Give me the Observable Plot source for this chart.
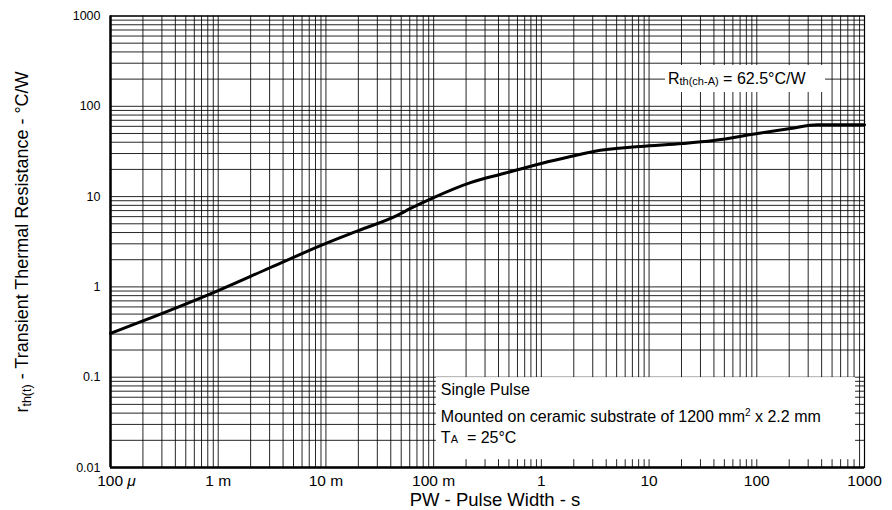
<!DOCTYPE html>
<html><head><meta charset="utf-8">
<script src="https://cdn.jsdelivr.net/npm/d3@7"></script>
<script src="https://cdn.jsdelivr.net/npm/@observablehq/plot@0.6"></script>
<style>
body{margin:0;background:#fff;}
#chart svg{display:block;}
</style>
</head><body><div id="chart"></div>
<script>
// ---- data ----
const pulseWidth = [1e-4, 2e-4, 1e-3, 3.06e-3, 1e-2, 0.02, 0.046, 0.061, 0.1, 0.22, 0.446, 1.0, 1.87, 3.05, 8.3, 20.5, 39.7, 101.6, 206, 366, 1000];
const thermalRes = [0.305, 0.42, 0.912, 1.64, 3.03, 4.2, 6.2, 7.4, 9.77, 14.3, 18.0, 23.3, 27.8, 31.6, 35.9, 38.7, 41.8, 50.0, 56.8, 62.5, 62.5];
const xTicks = [1e-4, 1e-3, 1e-2, 1e-1, 1, 10, 100, 1000];
const xTickLabels = ["100 μ", "1 m", "10 m", "100 m", "1", "10", "100", "1000"];
const yTicks = [0.01, 0.1, 1, 10, 100, 1000];
const yTickLabels = ["0.01", "0.1", "1", "10", "100", "1000"];
const noteBox = [{x1: 0.106, x2: 826, y1: 0.0122, y2: 0.099}];
const rthBox = [{x1: 14.2, x2: 435, y1: 142, y2: 283}];
const rthValue = "62.5°C/W";

const curve = pulseWidth.map((t, i) => ({t, r: thermalRes[i]}));
const gridOf = (decades) => decades.slice(0, -1).flatMap(d => [1,2,3,4,5,6,7,8,9].map(m => m * d)).concat([decades[decades.length - 1]]);
const xGrid = gridOf(xTicks);
const yGrid = gridOf(yTicks);

const FONT = "'Liberation Sans', Arial, sans-serif";

const chart = Plot.plot({
  width: 892,
  height: 510,
  marginLeft: 110,
  marginRight: 28,
  marginTop: 15.5,
  marginBottom: 43,
  style: {fontFamily: FONT, background: "#fff", color: "#000"},
  x: {type: "log", domain: [1e-4, 1000]},
  y: {type: "log", domain: [0.01, 1000]},
  marks: [
    Plot.ruleX(xGrid, {stroke: "#000", strokeWidth: 1, strokeOpacity: 0.85}),
    Plot.ruleY(yGrid, {stroke: "#000", strokeWidth: 1, strokeOpacity: 0.85}),
    Plot.rect(noteBox, {x1: "x1", x2: "x2", y1: "y1", y2: "y2", fill: "#fff"}),
    Plot.rect(rthBox, {x1: "x1", x2: "x2", y1: "y1", y2: "y2", fill: "#fff"}),
    Plot.frame({stroke: "#000", strokeWidth: 1.2}),
    Plot.ruleY([0.01], {stroke: "#000", strokeWidth: 2.5}),
    Plot.ruleX([1e-4], {stroke: "#000", strokeWidth: 2.5}),
    Plot.line(curve, {x: "t", y: "r", stroke: "#000", strokeWidth: 3, curve: "monotone-x"}),
    Plot.axisX(xTicks, {tickSize: 0, tickPadding: 7, fontSize: 15.5, label: null,
      tickFormat: (d) => xTickLabels[xTicks.indexOf(d)]}),
    Plot.axisY(yTicks, {tickSize: 0, tickPadding: 10, fontSize: 12.5, label: null,
      tickFormat: (d) => yTickLabels[yTicks.indexOf(d)]})
  ]
});

const svg = d3.select(chart);
const sx = chart.scale("x"), sy = chart.scale("y");

// italic mu on first tick label
svg.selectAll("text").each(function() {
  const t = d3.select(this);
  if (t.text() === "100 μ") {
    t.text("100 ");
    t.attr("dx", 6);
    t.append("tspan").attr("font-style", "italic").text("μ");
  }
});

const addText = (x, y, size) => svg.append("text").attr("x", x).attr("y", y)
  .attr("text-anchor", "start").attr("font-family", FONT).attr("font-size", size).attr("fill", "#000");

// R_th annotation
const rt = addText(sx.apply(rthBox[0].x1) + 3, sy.apply(rthBox[0].y1) - 8, 16);
rt.append("tspan").text("R");
rt.append("tspan").attr("font-size", 11).attr("dy", 1).text("th(ch-A)");
rt.append("tspan").attr("dy", -1).text(" = " + rthValue);

// note lines
const nx = sx.apply(noteBox[0].x1) + 5;
const ny = sy.apply(noteBox[0].y2);
addText(nx, ny + 18, 16).text("Single Pulse");
const n2 = addText(nx, ny + 45, 16);
n2.append("tspan").text("Mounted on ceramic substrate of 1200 mm");
n2.append("tspan").attr("font-size", 10).attr("dy", -6).text("2");
n2.append("tspan").attr("dy", 6).text(" x 2.2 mm");
const n3 = addText(nx, ny + 66, 16);
n3.append("tspan").text("T");
n3.append("tspan").attr("font-size", 11).text("A");
n3.append("tspan").text("  = 25°C");

// axis titles
svg.append("text").attr("x", 495).attr("y", 505.5).attr("text-anchor", "middle")
  .attr("font-family", FONT).attr("font-size", 18.5).attr("fill", "#000")
  .text("PW - Pulse Width - s");
const yl = svg.append("text").attr("transform", "translate(28,242) rotate(-90)").attr("text-anchor", "middle")
  .attr("font-family", FONT).attr("font-size", 18).attr("fill", "#000");
yl.append("tspan").text("r");
yl.append("tspan").attr("font-size", 12.5).attr("dy", 3).text("th(t)");
yl.append("tspan").attr("dy", -3).text(" - Transient Thermal Resistance - °C/W");

document.getElementById("chart").append(chart);
</script>
</body></html>
